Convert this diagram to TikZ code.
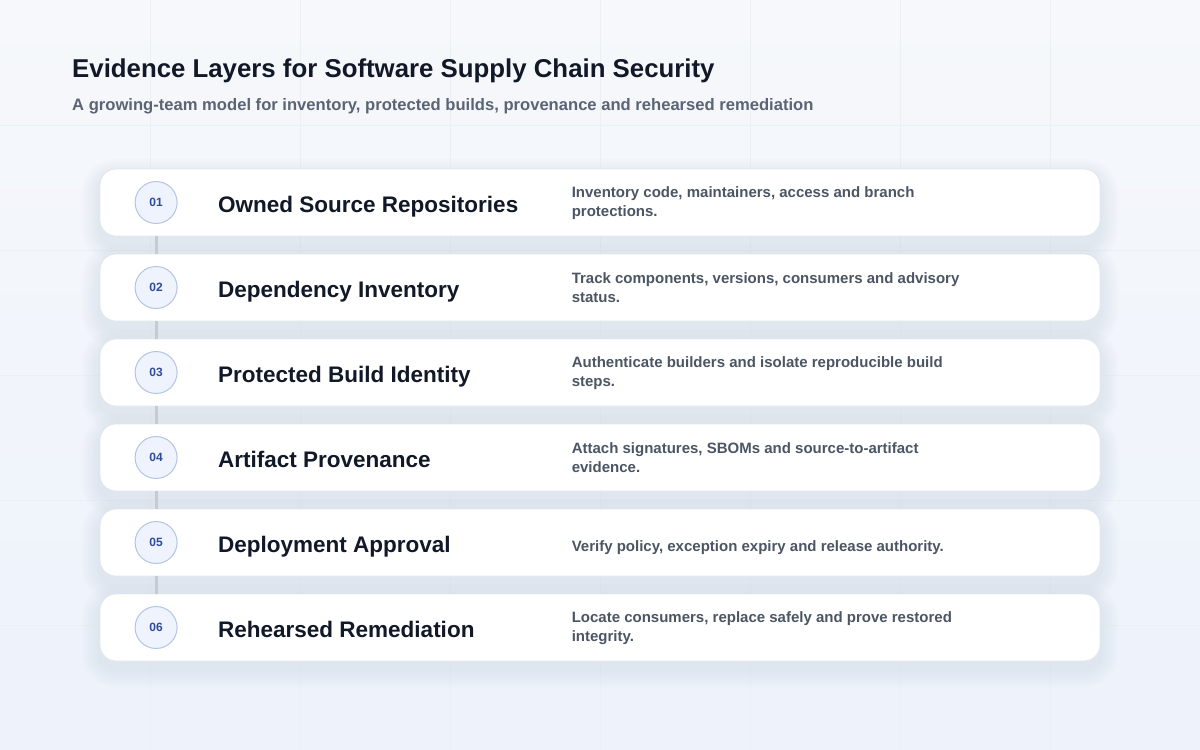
\documentclass[tikz,border=0pt]{standalone}
\usepackage{fontspec}
\setmainfont{Liberation Sans}
\usetikzlibrary{positioning}

\definecolor{bgtop}{HTML}{F6F8FB}
\definecolor{bgbot}{HTML}{EDF2FB}
\definecolor{gridc}{HTML}{EBEFF6}
\definecolor{ink}{HTML}{111827}
\definecolor{subink}{HTML}{5B6474}
\definecolor{descink}{HTML}{4B5563}
\definecolor{shadowc}{HTML}{8E9BB4}
\definecolor{cardline}{HTML}{E1E6EF}
\definecolor{dotfill}{HTML}{EEF3FD}
\definecolor{dotline}{HTML}{B4C4E4}
\definecolor{dotink}{HTML}{2F4B9C}
\definecolor{linkc}{HTML}{C5CAD3}

\begin{document}
\begin{tikzpicture}[
    x=1pt, y=-1pt,
    gridline/.style={draw=gridc, line width=1pt},
    layer/.style={rectangle, draw=cardline, line width=0.8pt, fill=white, rounded corners=16pt, minimum width=1000pt, minimum height=67pt, inner sep=0pt},
    numdot/.style={circle, draw=dotline, line width=1pt, fill=dotfill, minimum size=42pt, inner sep=0pt, text=dotink, font=\fontsize{12}{12}\selectfont\bfseries},
    layername/.style={anchor=base west, inner sep=0pt, text=ink, font=\fontsize{22.5}{26}\selectfont\bfseries},
    layerdesc/.style={anchor=west, inner sep=0pt, align=left, text=descink, font=\fontsize{15}{19}\selectfont\bfseries},
    link/.style={draw=linkc, line width=3pt}
]
\useasboundingbox (0,0) rectangle (1200,750);
\shade[top color=bgtop, bottom color=bgbot] (0,0) rectangle (1200,750);

% faint grid
\foreach \gx in {150,300,...,1050}
    \draw[gridline] (\gx,0) -- (\gx,750);
\foreach \gy in {125,250,...,625}
    \draw[gridline] (0,\gy) -- (1200,\gy);

% heading
\node[anchor=base west, inner sep=0pt, text=ink, font=\fontsize{25.8}{30}\selectfont\bfseries] (title) at (72,77) {Evidence Layers for Software Supply Chain Security};
\node[anchor=base west, inner sep=0pt, text=subink, font=\fontsize{16.6}{19}\selectfont\bfseries] (subtitle) at (72,110) {A growing-team model for inventory, protected builds, provenance and rehearsed remediation};

% layer cards
\foreach \n/\ttl/\dsc/\dy [count=\i] in {
    01/{Owned Source Repositories}/{Inventory code, maintainers, access and branch\\protections.}/-0.5,
    02/{Dependency Inventory}/{Track components, versions, consumers and advisory\\status.}/-0.5,
    03/{Protected Build Identity}/{Authenticate builders and isolate reproducible build\\steps.}/-0.5,
    04/{Artifact Provenance}/{Attach signatures, SBOMs and source-to-artifact\\evidence.}/-0.5,
    05/{Deployment Approval}/{Verify policy, exception expiry and release authority.}/-5,
    06/{Rehearsed Remediation}/{Locate consumers, replace safely and prove restored\\integrity.}/-0.5}
{
    \pgfmathsetmacro{\cy}{202.5+85*(\i-1)}
    % soft shadow
    \foreach \k in {1,...,6} {
        \pgfmathsetmacro{\s}{3*\k}
        \pgfmathsetmacro{\r}{16+3*\k}
        \fill[shadowc, opacity=0.025, rounded corners=\r pt]
            (100-\s,\cy-33.5+8-\s) rectangle (1100+\s,\cy+33.5+8+\s);
    }
    \node[layer] (card\i) at (600,\cy) {};
    \node[numdot, right=35pt of card\i.west] (num\i) {\n};
    \node[layername] (name\i) at (218,\cy+9.5) {\ttl};
    \node[layerdesc, right=472pt of card\i.west, yshift=\dy pt] (desc\i) {\dsc};
}

% links between cards
\foreach \i [evaluate=\i as \j using int(\i+1)] in {1,...,5}
    \draw[link] (card\i.south -| num\i) -- (card\j.north -| num\i);

\end{tikzpicture}
\end{document}
